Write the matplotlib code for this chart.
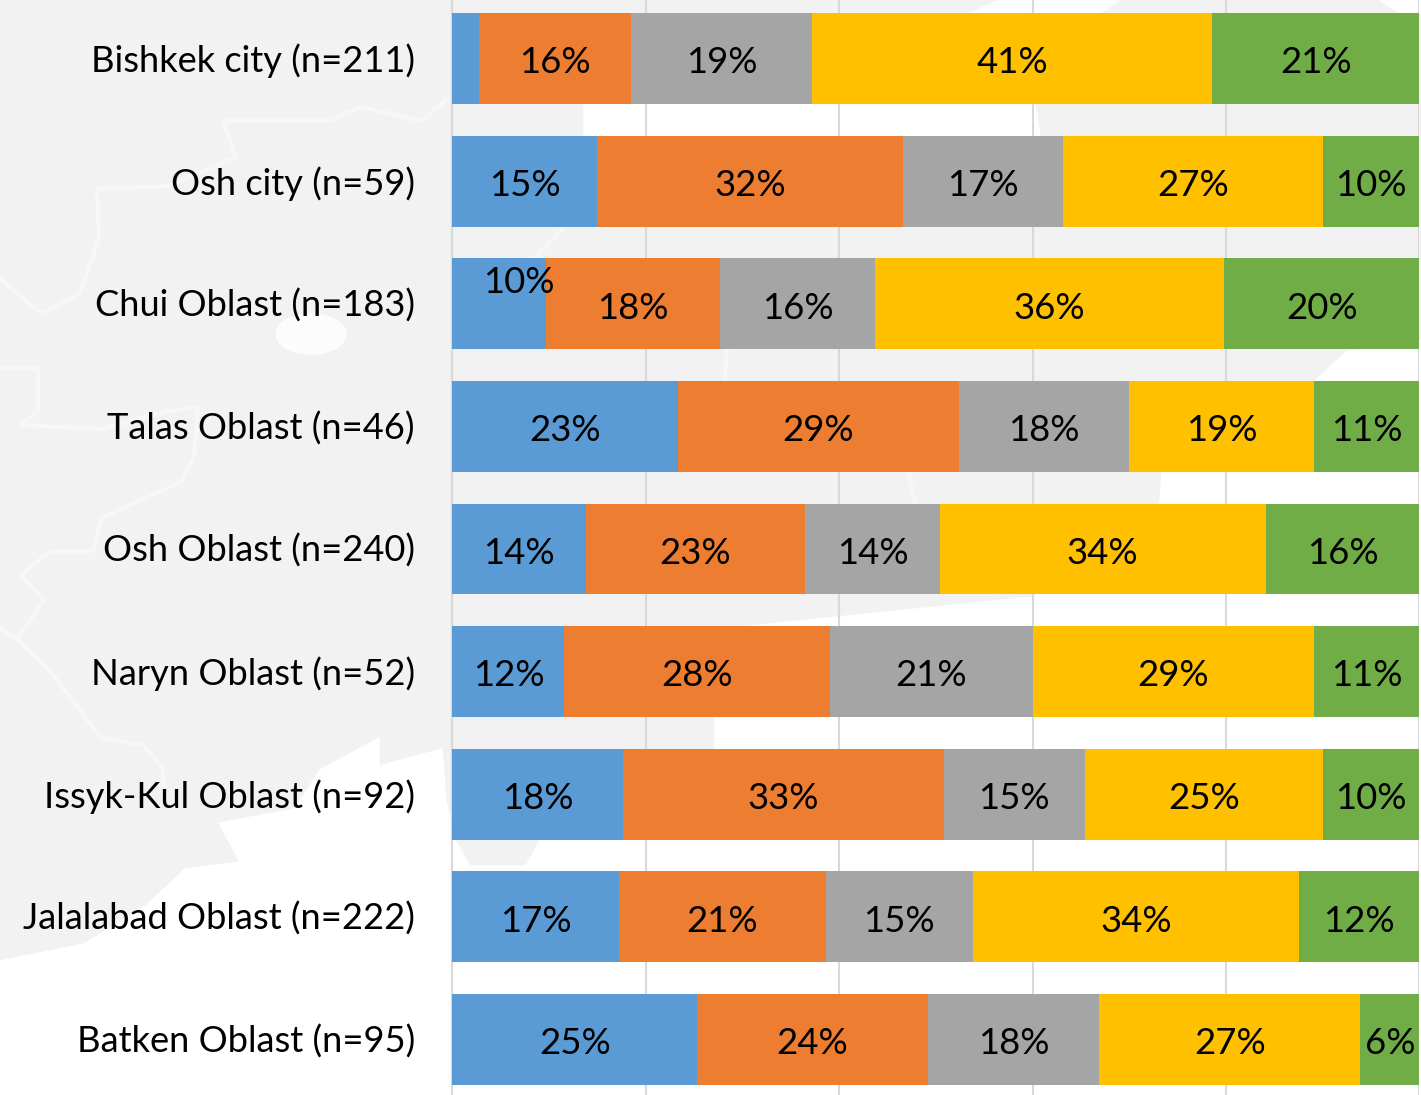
import matplotlib
matplotlib.use("Agg")
import matplotlib.pyplot as plt
from matplotlib.patches import Ellipse
from matplotlib.transforms import ScaledTranslation
import numpy as np

plt.rcParams['font.family'] = ['Lato', 'DejaVu Sans']

regions = ["Bishkek city (n=211)", "Osh city (n=59)", "Chui Oblast (n=183)",
           "Talas Oblast (n=46)", "Osh Oblast (n=240)", "Naryn Oblast (n=52)",
           "Issyk-Kul Oblast (n=92)", "Jalalabad Oblast (n=222)", "Batken Oblast (n=95)"]
seg1 = [2.8, 15.0, 9.7, 23.3, 13.8, 11.6, 17.7, 17.2, 25.3]
seg2 = [15.7, 31.6, 18.0, 29.1, 22.7, 27.5, 33.1, 21.4, 23.9]
seg3 = [18.7, 16.6, 16.0, 17.6, 13.9, 20.9, 14.6, 15.2, 17.7]
seg4 = [41.4, 26.8, 36.1, 19.1, 33.7, 29.1, 24.6, 33.8, 27.0]
seg5 = [21.4, 10.0, 20.2, 10.9, 15.9, 10.9, 10.0, 12.4, 6.1]
colors = ["#5B9BD5", "#ED7D31", "#A5A5A5", "#FFC000", "#70AD47"]

W, H = 1421, 1095
fig = plt.figure(figsize=(W/100, H/100), dpi=100)

# faint map behind the chart, pixel coords
bg = fig.add_axes([0, 0, 1, 1])
bg.set_xlim(0, W)
bg.set_ylim(H, 0)
bg.axis("off")
bg.add_patch(plt.Rectangle((0, 0), W, H, color="#f2f2f2"))
bg.fill([0, 84, 147, 185, 240, 219, 295, 320, 379, 379, 442, 446, 455, 470, 526, 540,
         715, 715, 750, 1033, 1160, 1162, 1200, 1315, 1346, 1421, 1421, 0],
        [961, 944, 905, 869, 862, 823, 809, 770, 738, 766, 749, 802, 840, 866, 866, 840,
         749, 717, 626, 597, 503, 472, 440, 381, 352, 340, 1095, 1095], color="white")
bg.fill([584, 1034, 1040, 584], [100, 100, 136, 136], color="white")
bg.fill([1000, 1120, 1100, 970], [0, 0, 13, 13], color="white")
bg.fill([1380, 1421, 1421, 1400], [0, 0, 13, 13], color="white")
bg.add_patch(Ellipse((311, 334), 70, 40, color="white", alpha=0.8))
border = dict(color="white", lw=3, alpha=0.4, solid_joinstyle="round")
bg.plot([446, 421, 362, 328, 223, 236, 168, 97, 99, 80, 42, 0],
        [100, 121, 107, 121, 121, 157, 186, 189, 239, 293, 314, 279], **border)
bg.plot([0, 38, 38, 21, 101, 168, 198, 194, 181, 101, 93, 50, 21, 44, 17, 0],
        [368, 368, 411, 425, 429, 411, 407, 457, 482, 518, 551, 551, 575, 600, 639, 628], **border)
bg.plot([17, 50, 101, 143, 162, 164], [639, 671, 738, 745, 767, 788], **border)
bg.plot([565, 535], [227, 258], **border)
bg.plot([727, 725], [349, 381], **border)
bg.plot([908, 915], [472, 503], **border)

ax = fig.add_axes([452.3/W, 0, 967/W, 1])
ax.patch.set_alpha(0)
ax.set_xlim(0, 100)
ax.set_ylim((H - 58.6)/122.6, -58.6/122.6)

y = np.arange(len(regions))
left = np.zeros(len(regions))
for vals, c in zip([seg1, seg2, seg3, seg4, seg5], colors):
    vals = np.array(vals)
    ax.barh(y, vals, left=left, height=0.742, color=c, zorder=3)
    for i, v in enumerate(vals):
        if v < 5:
            continue
        xx = left[i] + v/2
        yy = i + 0.035
        # the Chui label was dragged off centre in the original
        if i == 2 and c == "#5B9BD5":
            xx, yy = 6.9, i - 0.175
        ax.text(xx, yy, "%d%%" % round(v), ha="center", va="center",
                fontsize=26.3, color="black", zorder=4)
    left = left + vals

ax.set_xticks([0, 20, 40, 60, 80, 100])
ax.xaxis.grid(True, color="#d9d9d9", lw=1.5, zorder=0)
ax.tick_params(axis="x", length=0, labelbottom=False)
ax.set_yticks(y)
ax.set_yticklabels(regions, fontsize=26.1, color="black")
ax.tick_params(axis="y", length=0, pad=27)
up = ScaledTranslation(0, 1/100, fig.dpi_scale_trans)
for lab in ax.get_yticklabels():
    lab.set_transform(lab.get_transform() + up)
for s in ["top", "right", "bottom"]:
    ax.spines[s].set_visible(False)
ax.spines["left"].set_color("#d9d9d9")
ax.spines["left"].set_linewidth(1.5)

fig.savefig("out.png", dpi=100)
